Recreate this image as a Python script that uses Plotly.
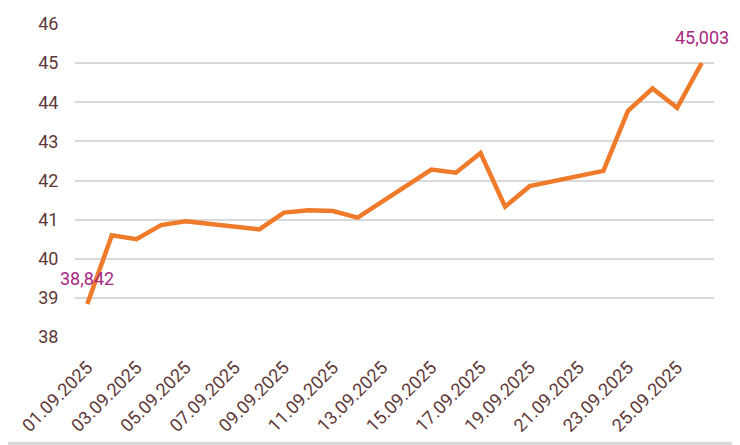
import plotly.graph_objects as go

dates = ["2025-09-01", "2025-09-02", "2025-09-03", "2025-09-04", "2025-09-05",
         "2025-09-08", "2025-09-09", "2025-09-10", "2025-09-11", "2025-09-12",
         "2025-09-15", "2025-09-16", "2025-09-17", "2025-09-18", "2025-09-19",
         "2025-09-22", "2025-09-23", "2025-09-24", "2025-09-25", "2025-09-26"]
values = [38.842, 40.60, 40.50, 40.86, 40.96,
          40.75, 41.18, 41.24, 41.22, 41.05,
          42.28, 42.20, 42.70, 41.33, 41.855,
          42.245, 43.78, 44.35, 43.86, 45.003]
y_ticks = [38, 39, 40, 41, 42, 43, 44, 45, 46]

LINE = "#ef7a2a"
TXT = "#5e3838"
ANN = "#a8287f"
GRID = "#d9d9d9"
FONT = "Roboto"

fig = go.Figure()
fig.add_trace(go.Scatter(x=dates, y=values, mode="lines",
                         line=dict(color=LINE, width=4.5), hoverinfo="skip"))

for i in (0, len(values) - 1):
    fig.add_annotation(x=dates[i], y=values[i],
                       text=f"{values[i]:.3f}".replace(".", ","),
                       showarrow=False, yanchor="bottom", yshift=13,
                       font=dict(family=FONT, size=18, color=ANN))

# the page body has an 8px margin, so the figure is sized to fill the rest
W, H = 732, 437
L, R, T, B = 67, 26, 15.5, 108
pw, ph = W - L - R, H - T - B
def px(x):
    return (x - L) / pw
def py(y):
    return (H - B - y) / ph

# white card inside a light gray frame (right/bottom edges visible)
fig.add_shape(type="rect", xref="paper", yref="paper", layer="below",
              x0=px(-10), x1=px(727), y0=py(434), y1=py(-10),
              fillcolor="white", line=dict(width=0))

fig.update_layout(
    width=W, height=H,
    margin=dict(l=L, r=R, t=T, b=B, pad=0),
    paper_bgcolor=GRID, plot_bgcolor="rgba(0,0,0,0)",
    showlegend=False,
    font=dict(family=FONT, size=18, color=TXT),
    xaxis=dict(type="date", range=["2025-08-31 12:00", "2025-09-26 12:00"],
               tick0="2025-09-01", dtick=2 * 86400000, tickformat="%d.%m.%Y",
               tickangle=-45, showgrid=False, zeroline=False, showline=False,
               automargin=False,
               ticks="outside", ticklen=12, tickcolor="rgba(0,0,0,0)",
               tickfont=dict(family=FONT, size=18, color=TXT)),
    yaxis=dict(range=[38, 46], tickvals=y_ticks, showgrid=True, gridcolor=GRID,
               gridwidth=2, zeroline=False, showline=False, automargin=False,
               ticks="outside", ticklen=12, tickcolor="rgba(0,0,0,0)",
               tickfont=dict(family=FONT, size=18, color=TXT)),
)

fig.write_html("out.html")
